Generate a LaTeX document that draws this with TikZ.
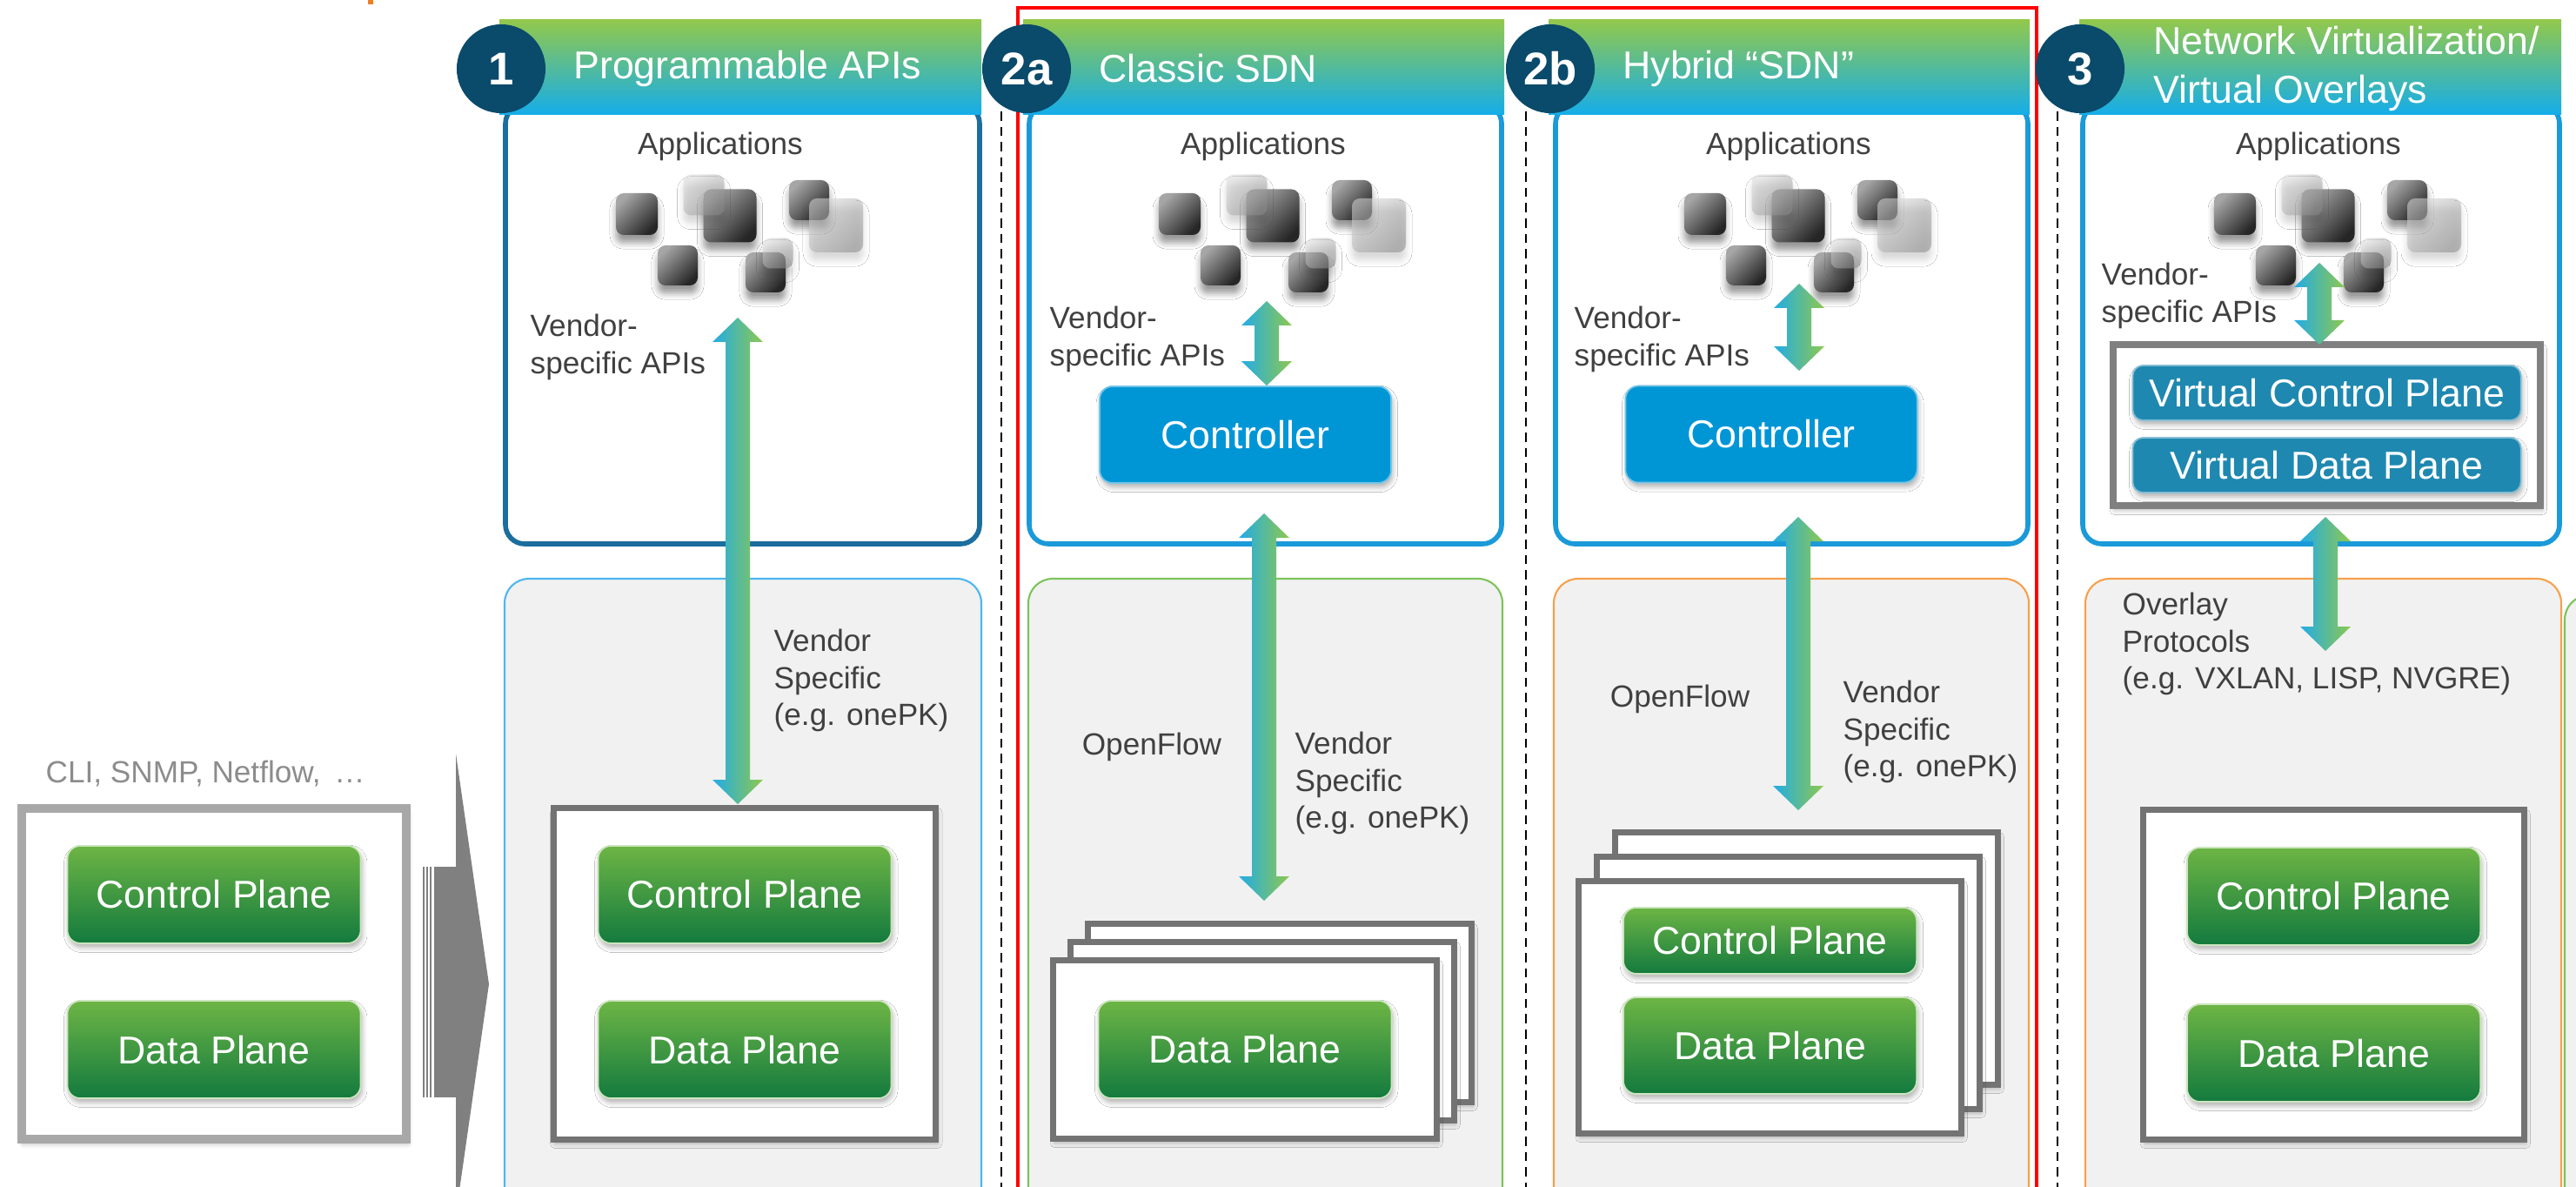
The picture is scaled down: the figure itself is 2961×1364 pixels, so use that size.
\documentclass[tikz,border=0pt]{standalone}
\usepackage{fontspec}
\setmainfont{Liberation Sans}
\usepackage{tikz}
\usetikzlibrary{positioning,calc,shadows.blur}
\definecolor{hdrgreen}{HTML}{92C84C}
\definecolor{hdrblue}{HTML}{14ADEA}
\definecolor{numnavy}{HTML}{0A4A6B}
\definecolor{apiedge}{HTML}{1B6E9E}
\definecolor{sdnedge}{HTML}{1A9AD9}
\definecolor{planetop}{HTML}{6DB545}
\definecolor{planebot}{HTML}{137A3E}
\definecolor{ctlblue}{HTML}{0096D6}
\definecolor{virtblue}{HTML}{1F88B0}
\definecolor{lblgray}{HTML}{404040}
\definecolor{cligray}{HTML}{8C8C8C}
\definecolor{lowfill}{HTML}{F1F1F1}
\definecolor{edgeblue}{HTML}{4DB6F0}
\definecolor{edgegreen}{HTML}{7DC35B}
\definecolor{edgeorange}{HTML}{F7A04B}
\definecolor{devgray}{HTML}{737373}
\definecolor{legacygray}{HTML}{A8A8A8}
\definecolor{shiftgray}{HTML}{808080}
\definecolor{arrblue}{HTML}{22ACE6}
\definecolor{arrgreen}{HTML}{8DC84E}
\definecolor{topnote}{HTML}{F07F22}

\tikzset{
  soft/.style={blur shadow={shadow xshift=0.5pt,shadow yshift=-1.4pt,shadow blur radius=1.6pt,shadow opacity=30}},
  appdark/.style={rounded corners=0.09cm,top color=black!35,bottom color=black!85,shading angle=45,
    blur shadow={shadow xshift=0pt,shadow yshift=-2.6pt,shadow blur radius=2pt,shadow opacity=40}},
  applight/.style={rounded corners=0.09cm,top color=black!15,bottom color=black!45,shading angle=45,fill opacity=0.55,
    blur shadow={shadow xshift=0pt,shadow yshift=-2.6pt,shadow blur radius=2pt,shadow opacity=15}}
}

\newcommand{\appsq}[4]{\path[#4] ({#1-#3/2},{#2-#3/2}) rectangle ++(#3,#3);}
\newcommand{\appcloud}[1]{%
  \begin{scope}[shift={(#1.center)}]
    \appsq{-96}{78}{48}{appdark}
    \appsq{11}{80}{61}{appdark}
    \appsq{102}{62}{46}{appdark}
    \appsq{-49}{137}{46}{appdark}
    \appsq{52}{145}{46}{appdark}
    \appsq{-19}{56}{47}{applight}
    \appsq{133}{91}{62}{applight}
    \appsq{66}{123}{35}{applight}
  \end{scope}}
\newcommand{\vlink}[2]{%
  \shade[left color=arrblue,right color=arrgreen]
    (#1) -- ($(#1)+(29,28)$) -- ($(#1)+(14,28)$) -- ($(#2)+(14,-28)$)
    -- ($(#2)+(29,-28)$) -- (#2) -- ($(#2)+(-29,-28)$) -- ($(#2)+(-14,-28)$)
    -- ($(#1)+(-14,28)$) -- ($(#1)+(-29,28)$) -- cycle;}

\begin{document}
\begin{tikzpicture}[x=0.01cm,y=-0.01cm,font=\fontsize{10}{12}\selectfont]
  \tikzstyle{lbl}=[text=lblgray,align=left,inner sep=0pt]
  \tikzstyle{num}=[circle,fill=numnavy,text=white,minimum size=1.02cm,inner sep=0pt,font=\bfseries\fontsize{15}{15}\selectfont]
  \tikzstyle{ttl}=[text=white,align=left,inner sep=0pt,font=\fontsize{12.7}{15.9}\selectfont]
  \tikzstyle{plane}=[rounded corners=0.15cm,top color=planetop,bottom color=planebot,draw=planetop!35!white,line width=0.5pt,
    text=white,font=\fontsize{12.7}{15}\selectfont,minimum width=3.37cm,minimum height=1.12cm,outer sep=0pt,soft]
  \tikzstyle{ctl}=[rounded corners=0.15cm,fill=ctlblue,draw=ctlblue!55!white,line width=0.5pt,text=white,
    font=\fontsize{12.7}{15}\selectfont,minimum width=3.35cm,minimum height=1.11cm,soft]
  \tikzstyle{virt}=[rounded corners=0.12cm,fill=virtblue,draw=virtblue!55!white,line width=0.5pt,text=white,
    font=\fontsize{12.7}{15}\selectfont,minimum width=4.46cm,minimum height=0.63cm,outer sep=0pt,soft]
  \tikzstyle{dev}=[draw=devgray,line width=2pt,fill=white,outer sep=0pt,soft]

  \path[use as bounding box,clip] (0,0) rectangle (2961,1364);
  \fill[topnote] (423,0) rectangle (429,5);

  % separators and the SDN frame
  \foreach \x in {1151,1754,2365}
    \draw[line width=0.5pt,dash pattern=on 3pt off 2pt] (\x,128) -- (\x,1364);
  \draw[red,line width=1.4pt] (1170,1400) -- (1170,9) -- (2341,9) -- (2341,1400);

  % lower (device) areas
  \foreach \xl/\xr/\ec in {580/1128/edgeblue,1182/1727/edgegreen,1786/2332/edgeorange,2397/2944/edgeorange}
    \draw[\ec,line width=0.6pt,fill=lowfill,rounded corners=0.28cm] (\xl,665) rectangle (\xr,1420);
  \draw[edgegreen,line width=0.6pt,fill=lowfill,rounded corners=0.28cm] (2948,684) rectangle (3100,1420);

  % upper (application) areas and title bars
  \foreach \xl/\xr/\ec in {581/1126/apiedge,1183/1726/sdnedge,1788/2331/sdnedge,2394/2942/sdnedge}
    \draw[\ec,line width=1.6pt,fill=white,rounded corners=0.22cm] (\xl,120) rectangle (\xr,625);
  \foreach \xl/\xr in {574/1128,1176/1729,1780/2333,2390/2944}
    \shade[top color=hdrgreen,bottom color=hdrblue] (\xl,23) rectangle (\xr,132);

  \node[num] (n1) at (576,79) {1};
  \node[num] (n2a) at (1180,79) {2a};
  \node[num] (n2b) at (1782,79) {2b};
  \node[num] (n3) at (2391,79) {3};
  \node[ttl,right=0.31cm of n1] (t1) {Programmable APIs};
  \node[ttl,right=0.31cm of n2a] (t2a) {Classic SDN};
  \node[ttl,right=0.31cm of n2b] (t2b) {Hybrid “SDN”};
  \node[ttl,right=0.32cm of n3] (t3) {Network Virtualization/\\Virtual Overlays};

  % traditional box
  \node[lbl,text=cligray,anchor=west] (cli) at (52,889) {CLI, SNMP, Netflow, \,…};
  \node[draw=legacygray,line width=2.8pt,fill=white,outer sep=0pt,soft,minimum width=4.42cm,minimum height=3.8cm] (dev0) at (246,1119) {};
  \node[plane,below=0.43cm of dev0.north] (cp0) {Control Plane};
  \node[plane,below=0.66cm of cp0] (dp0) {Data Plane};
  \foreach \x/\w in {486/1.5,489.5/2,493.5/2.5}
    \fill[shiftgray] (\x,996) rectangle ++(\w,265);
  \fill[shiftgray] (499,996) rectangle (524,1261);
  \fill[shiftgray] (524,866) -- (562,1131) -- (524,1396) -- cycle;

  % 1
  \node[lbl] (ap1) at (828,168) {Applications};
  \appcloud{ap1}
  \node[lbl,anchor=west] (vs1) at (609,399) {Vendor-\\specific APIs};
  \node[lbl,anchor=west] (ve1) at (889,782) {Vendor\\Specific\\(e.g. onePK)};
  \node[dev,minimum width=4.39cm,minimum height=3.8cm] (dev1) at (856,1119) {};
  \node[plane,below=0.43cm of dev1.north] (cp1) {Control Plane};
  \node[plane,below=0.66cm of cp1] (dp1) {Data Plane};
  \coordinate (l1t) at (848,365);
  \coordinate (l1b) at (848,924);
  \vlink{l1t}{l1b}

  % 2a
  \node[lbl] (ap2a) at (1452,168) {Applications};
  \appcloud{ap2a}
  \node[lbl,anchor=west] (vs2a) at (1206,390) {Vendor-\\specific APIs};
  \node[ctl] (ctl2a) at (1431.5,499.5) {Controller};
  \node[lbl] (of2a) at (1324,858) {OpenFlow};
  \node[lbl,anchor=west] (ve2a) at (1488,900) {Vendor\\Specific\\(e.g. onePK)};
  \coordinate (st2a) at (1431,1206);
  \foreach \k in {2,1}
    \node[dev,minimum width=4.4cm,minimum height=2.04cm] at ($(st2a)+(\k*20,-\k*21)$) {};
  \node[dev,minimum width=4.4cm,minimum height=2.04cm] (dev2a) at (st2a) {};
  \node[plane] (dp2a) at (dev2a) {Data Plane};
  \coordinate (s2at) at (1456,346);
  \coordinate (s2ab) at (ctl2a.north -| s2at);
  \vlink{s2at}{s2ab}
  \coordinate (l2at) at (1453,590);
  \coordinate (l2ab) at (1453,1035);
  \vlink{l2at}{l2ab}

  % 2b
  \node[lbl] (ap2b) at (2056,168) {Applications};
  \appcloud{ap2b}
  \node[lbl,anchor=west] (vs2b) at (1809,390) {Vendor-\\specific APIs};
  \node[ctl] (ctl2b) at (2036,499) {Controller};
  \node[lbl] (of2b) at (1931,803) {OpenFlow};
  \node[lbl,anchor=west] (ve2b) at (2118,841) {Vendor\\Specific\\(e.g. onePK)};
  \coordinate (st2b) at (2034.5,1157.5);
  \foreach \k in {2,1}
    \node[dev,minimum width=4.39cm,minimum height=2.89cm] at ($(st2b)+(\k*21,-\k*28)$) {};
  \node[dev,minimum width=4.39cm,minimum height=2.89cm] (dev2b) at (st2b) {};
  \node[plane,minimum height=0.76cm,below=0.3cm of dev2b.north] (cp2b) {Control Plane};
  \node[plane,minimum height=1.11cm,below=0.27cm of cp2b] (dp2b) {Data Plane};
  \coordinate (s2bt) at (2068,326);
  \coordinate (s2bb) at (2068,426);
  \vlink{s2bt}{s2bb}
  \coordinate (l2bt) at (2067,594);
  \coordinate (l2bb) at (2067,931);
  \vlink{l2bt}{l2bb}

  % 3
  \node[lbl] (ap3) at (2665,168) {Applications};
  \appcloud{ap3}
  \node[lbl,anchor=west] (vs3) at (2415,340) {Vendor-\\specific APIs};
  \node[draw=shiftgray,line width=2.3pt,fill=white,outer sep=0pt,soft,minimum width=4.91cm,minimum height=1.85cm] (vfr) at (2674.5,488.5) {};
  \node[virt,below=0.24cm of vfr.north] (vcp) {Virtual Control Plane};
  \node[virt,below=0.2cm of vcp] (vdp) {Virtual Data Plane};
  \node[lbl,anchor=west] (ov3) at (2439,740) {Overlay\\Protocols\\(e.g. VXLAN, LISP, NVGRE)};
  \node[dev,minimum width=4.37cm,minimum height=3.78cm] (dev3) at (2682.5,1120) {};
  \node[plane,below=0.43cm of dev3.north] (cp3) {Control Plane};
  \node[plane,below=0.68cm of cp3] (dp3) {Data Plane};
  \coordinate (s3t) at (2666,302);
  \coordinate (s3b) at (vfr.north -| s3t);
  \vlink{s3t}{s3b}
  \coordinate (l3t) at (2673,594);
  \coordinate (l3b) at (2673,748);
  \vlink{l3t}{l3b}
\end{tikzpicture}
\end{document}
